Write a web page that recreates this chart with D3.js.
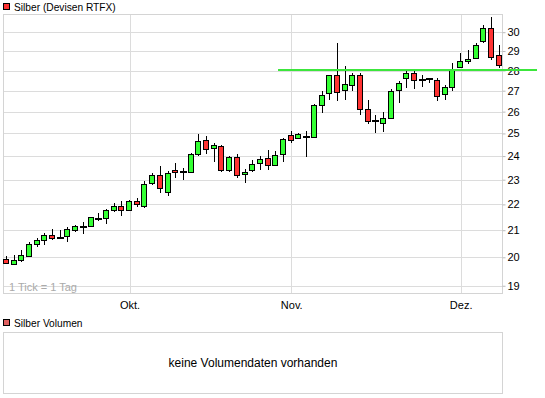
<!DOCTYPE html>
<html><head><meta charset="utf-8">
<script src="https://cdn.jsdelivr.net/npm/d3@7"></script>
<style>
html,body{margin:0;padding:0;background:#fff;}
svg{display:block;font-family:"Liberation Sans",Arial,sans-serif;}
</style></head>
<body>
<svg id="c" width="545" height="398"></svg>
<script>
const dates = ["2010-09-09","2010-09-10","2010-09-13","2010-09-14","2010-09-15","2010-09-16","2010-09-17","2010-09-20","2010-09-21","2010-09-22","2010-09-23","2010-09-24","2010-09-27","2010-09-28","2010-09-29","2010-09-30",
"2010-10-01","2010-10-04","2010-10-05","2010-10-06","2010-10-07","2010-10-08","2010-10-11","2010-10-12","2010-10-13","2010-10-14","2010-10-15","2010-10-18","2010-10-19","2010-10-20","2010-10-21","2010-10-22","2010-10-25","2010-10-26","2010-10-27","2010-10-28","2010-10-29",
"2010-11-01","2010-11-02","2010-11-03","2010-11-04","2010-11-05","2010-11-08","2010-11-09","2010-11-10","2010-11-11","2010-11-12","2010-11-15","2010-11-16","2010-11-17","2010-11-18","2010-11-19","2010-11-22","2010-11-23","2010-11-24","2010-11-25","2010-11-26","2010-11-29","2010-11-30",
"2010-12-01","2010-12-02","2010-12-03","2010-12-06","2010-12-07","2010-12-08"];
const open = [19.93,19.75,19.89,20.06,20.48,20.63,20.81,20.75,20.77,21.00,
21.17,21.15,21.48,21.46,21.77,21.93,21.77,22.13,21.93,22.85,
23.19,22.51,23.40,23.36,23.31,24.08,24.70,24.34,24.43,23.40,
23.95,23.23,23.40,23.69,23.91,23.61,24.08,24.92,24.79,24.90,
24.83,26.31,26.88,27.77,27.02,27.27,27.77,26.11,25.60,25.47,
25.70,27.02,27.62,27.87,27.58,27.62,27.52,26.83,27.17,28.17,
28.48,28.63,29.52,30.22,28.78];
const high = [20.06,20.07,20.26,20.55,20.69,20.89,21.03,21.01,21.11,21.21,
21.31,21.52,21.66,21.81,22.04,22.13,22.17,22.26,22.94,23.27,
23.58,23.36,23.69,23.48,24.12,24.98,24.89,24.57,24.48,23.99,
24.08,23.44,23.83,23.99,24.26,24.21,24.78,25.10,25.01,25.11,
26.34,26.99,27.77,29.41,28.24,27.87,27.87,26.54,25.83,25.97,
27.07,27.47,27.97,27.97,27.77,27.62,27.62,27.27,28.37,28.89,
29.04,29.43,30.39,30.81,29.31];
const low = [19.76,19.72,19.82,20.02,20.37,20.46,20.64,20.72,20.54,20.94,
20.87,21.14,21.34,21.23,21.69,21.56,21.74,21.91,21.85,22.77,
22.47,22.35,23.06,22.98,23.27,24.02,24.11,23.74,23.31,23.31,
23.06,22.85,23.31,23.40,23.40,23.57,23.74,24.57,24.74,23.97,
24.79,25.93,26.57,26.48,26.54,26.97,25.83,25.42,25.03,25.05,
25.66,26.40,27.12,27.07,27.17,27.37,26.50,26.54,26.97,28.12,
28.32,28.60,29.41,28.53,28.12];
const close = [19.79,19.89,20.07,20.48,20.63,20.81,20.72,20.75,21.03,21.15,
21.17,21.50,21.48,21.77,21.93,21.77,22.13,22.00,22.81,23.19,
22.65,23.27,23.31,23.36,24.08,24.65,24.30,24.48,23.40,23.95,
23.19,23.31,23.65,23.86,23.61,24.04,24.74,24.70,24.96,24.90,
26.31,26.78,27.77,26.93,27.32,27.77,26.11,25.56,25.60,25.70,
26.97,27.37,27.87,27.52,27.58,27.62,26.74,27.17,28.02,28.48,
28.58,29.31,30.22,28.68,28.27];
const yTicks = [19,20,21,22,23,24,25,26,27,28,29,30];
const monthTickDates = ["2010-10-01","2010-11-01","2010-12-01"];
const monthTickLabels = ["Okt.","Nov.","Dez."];
const resistanceLevel = 28.03;
const resistanceStartDate = "2010-10-29";
const seriesTitle = "Silber (Devisen RTFX)";
const volumeTitle = "Silber Volumen";
const noVolumeText = "keine Volumendaten vorhanden";
const tickNote = "1 Tick = 1 Tag";

const svg = d3.select("#c");
const L = 3, R = 503, T = 14, B = 294;
const x = d3.scaleLinear().domain([-0.43, 64.5]).range([L, R]);
const y = d3.scaleLog().domain([18.72, 31.0]).range([B, T]);

svg.append("rect").attr("width",545).attr("height",398).attr("fill","#fff");

// legend
svg.append("rect").attr("x",3.5).attr("y",3.5).attr("width",6).attr("height",6)
  .attr("fill","#ff3333").attr("stroke","#000");
svg.append("text").attr("x",14).attr("y",11).attr("font-size",10.2).attr("fill","#000").text(seriesTitle);

// grid
const g = svg.append("g");
g.selectAll("line.h").data(yTicks).join("line")
  .attr("x1",L).attr("x2",R).attr("y1",d=>Math.round(y(d))+0.5).attr("y2",d=>Math.round(y(d))+0.5)
  .attr("stroke","#dcdcdc");
const monthIdx = monthTickDates.map(d=>dates.indexOf(d));
g.selectAll("line.v").data(monthIdx).join("line")
  .attr("x1",d=>Math.round(x(d))+0.5).attr("x2",d=>Math.round(x(d))+0.5).attr("y1",T).attr("y2",B)
  .attr("stroke","#dcdcdc");
g.append("rect").attr("x",L+0.5).attr("y",T+0.5).attr("width",R-L-1).attr("height",B-T-1)
  .attr("fill","none").attr("stroke","#d4d4d4");

// y axis
const ya = svg.append("g").attr("transform",`translate(${R-0.5},0)`)
  .call(d3.axisRight(y).tickValues(yTicks).tickFormat(d3.format("d")).tickSize(3).tickPadding(2));
ya.select(".domain").remove();
ya.selectAll(".tick line").attr("stroke","#bbb");
ya.selectAll(".tick text").attr("font-size",11).attr("fill","#000").attr("font-family","Liberation Sans, Arial, sans-serif");

// x axis
const xa = svg.append("g").attr("transform",`translate(0,${B})`)
  .call(d3.axisBottom(x).tickValues(monthIdx).tickFormat((d,i)=>monthTickLabels[i]).tickSize(0).tickPadding(7));
xa.select(".domain").remove();
xa.selectAll(".tick text").attr("font-size",11).attr("fill","#000").attr("font-family","Liberation Sans, Arial, sans-serif");

svg.append("text").attr("x",9).attr("y",291).attr("font-size",11).attr("fill","#aaa").text(tickNote);

// candles
const data = dates.map((d,i)=>({i,o:open[i],h:high[i],l:low[i],c:close[i]}));
const cg = svg.append("g");
const cx = d=>Math.floor(x(d.i));
cg.selectAll("line.w").data(data).join("line")
  .attr("x1",d=>cx(d)+0.5).attr("x2",d=>cx(d)+0.5)
  .attr("y1",d=>Math.round(y(d.h))).attr("y2",d=>Math.round(y(d.l)))
  .attr("stroke","#000").attr("stroke-width",1);
cg.selectAll("rect.b").data(data).join("rect")
  .attr("x",d=>cx(d)-3+0.5)
  .attr("y",d=>Math.round(y(Math.max(d.o,d.c)))+0.5)
  .attr("width",d=>d.o===d.c?6:5)
  .attr("height",d=>Math.max(1,Math.round(y(Math.min(d.o,d.c)))-Math.round(y(Math.max(d.o,d.c)))))
  .attr("fill",d=>d.c>d.o?"#33ff33":(d.c<d.o?"#ff3333":"#000"))
  .attr("stroke","#000").attr("stroke-width",1);

// resistance line
svg.append("line").attr("x1",x(dates.indexOf(resistanceStartDate))-5.5).attr("x2",537)
  .attr("y1",y(resistanceLevel)).attr("y2",y(resistanceLevel))
  .attr("stroke","#3ce63c").attr("stroke-width",2);

// volume panel
svg.append("rect").attr("x",3.5).attr("y",319.5).attr("width",6).attr("height",6)
  .attr("fill","#e06060").attr("stroke","#000");
svg.append("text").attr("x",14).attr("y",327).attr("font-size",10.2).attr("fill","#000").text(volumeTitle);
svg.append("rect").attr("x",L+0.5).attr("y",332.5).attr("width",R-L-1).attr("height",61)
  .attr("fill","none").attr("stroke","#d4d4d4");
svg.append("text").attr("x",(L+R)/2).attr("y",367).attr("text-anchor","middle").attr("font-size",12).attr("fill","#000").text(noVolumeText);
</script>
</body></html>
